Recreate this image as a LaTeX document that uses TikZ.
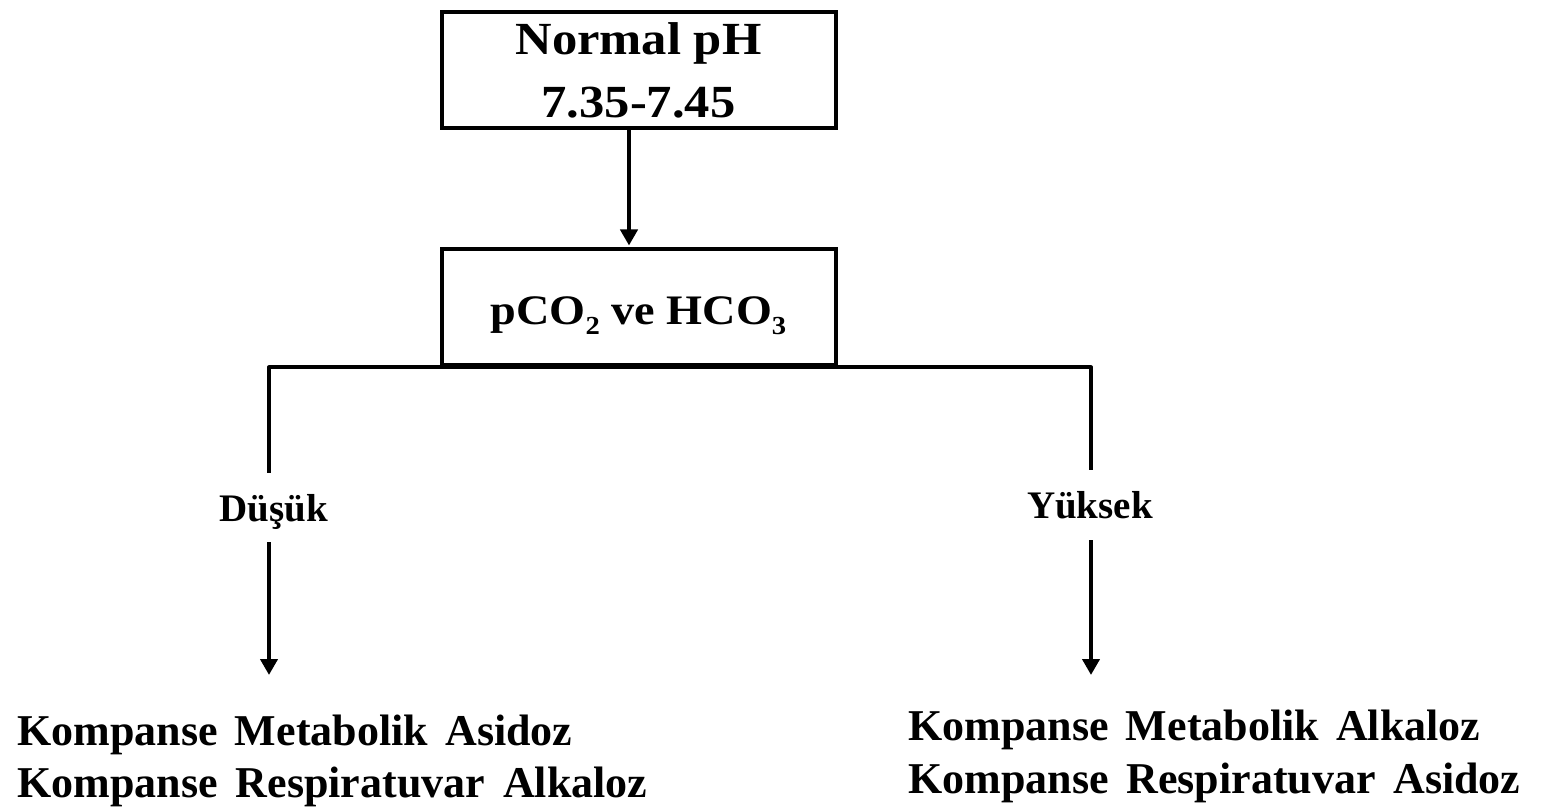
\documentclass[tikz,border=0pt]{standalone}
\usepackage{fontspec}
\setmainfont{Liberation Serif}
\newfontfamily\wideserif[FakeStretch=1.1]{Liberation Serif}
\usetikzlibrary{arrows.meta}
\newcommand{\sbs}[1]{\raisebox{-0.22em}{\fontsize{13}{13}\selectfont #1}}
\begin{document}
\begin{tikzpicture}[x=0.5pt,y=-0.5pt,
  line/.style={line width=2pt, line join=round},
  arr/.style={line, -{Triangle[length=8pt,width=8.5pt]}},
  box/.style={draw, line width=2pt, inner sep=0pt, minimum width=197pt, minimum height=58pt, align=center, text depth=0pt},
  lbl/.style={font=\fontsize{19.5}{22}\selectfont\bfseries, inner sep=0pt, anchor=base},
  res/.style={font=\fontsize{22}{26}\selectfont\bfseries, inner sep=0pt, anchor=base west}]
\useasboundingbox (0,0) rectangle (1542,812);
\node[box, font=\wideserif\bfseries\fontsize{23}{31.5}\selectfont] (ph) at (638.5,70) {Normal pH\\7.35-7.45};
\node[box, text height=17.5pt, font=\wideserif\bfseries\fontsize{21}{25}\selectfont] (gas) at (638.5,307.5) {pCO\sbs{2} ve HCO\sbs{3}};
\draw[arr, shorten >=1pt] ([xshift=-4.75pt]ph.south) -- ([xshift=-4.75pt]gas.north);
\node[lbl] (dus) at (274,521) {Düşük};
\node[lbl] (yuk) at (1090,518) {Yüksek};
\coordinate (dTop) at (269,473);
\coordinate (yTop) at (1091,470);
\draw[line] (dTop) |- (gas.south) -| (yTop);
\coordinate (dBot) at (269,542);
\coordinate (dEnd) at (269,675);
\coordinate (yBot) at (1091,540);
\coordinate (yEnd) at (1091,675);
\draw[arr] (dBot) -- (dEnd);
\draw[arr] (yBot) -- (yEnd);
\node[res] (rL1) at (17,745) {\makebox[277.5pt][s]{Kompanse Metabolik Asidoz}};
\node[res] (rL2) at (17,797) {\makebox[315pt][s]{Kompanse Respiratuvar Alkaloz}};
\node[res] (rR1) at (908,740) {\makebox[286pt][s]{Kompanse Metabolik Alkaloz}};
\node[res] (rR2) at (908,793) {\makebox[306pt][s]{Kompanse Respiratuvar Asidoz}};
\end{tikzpicture}
\end{document}
